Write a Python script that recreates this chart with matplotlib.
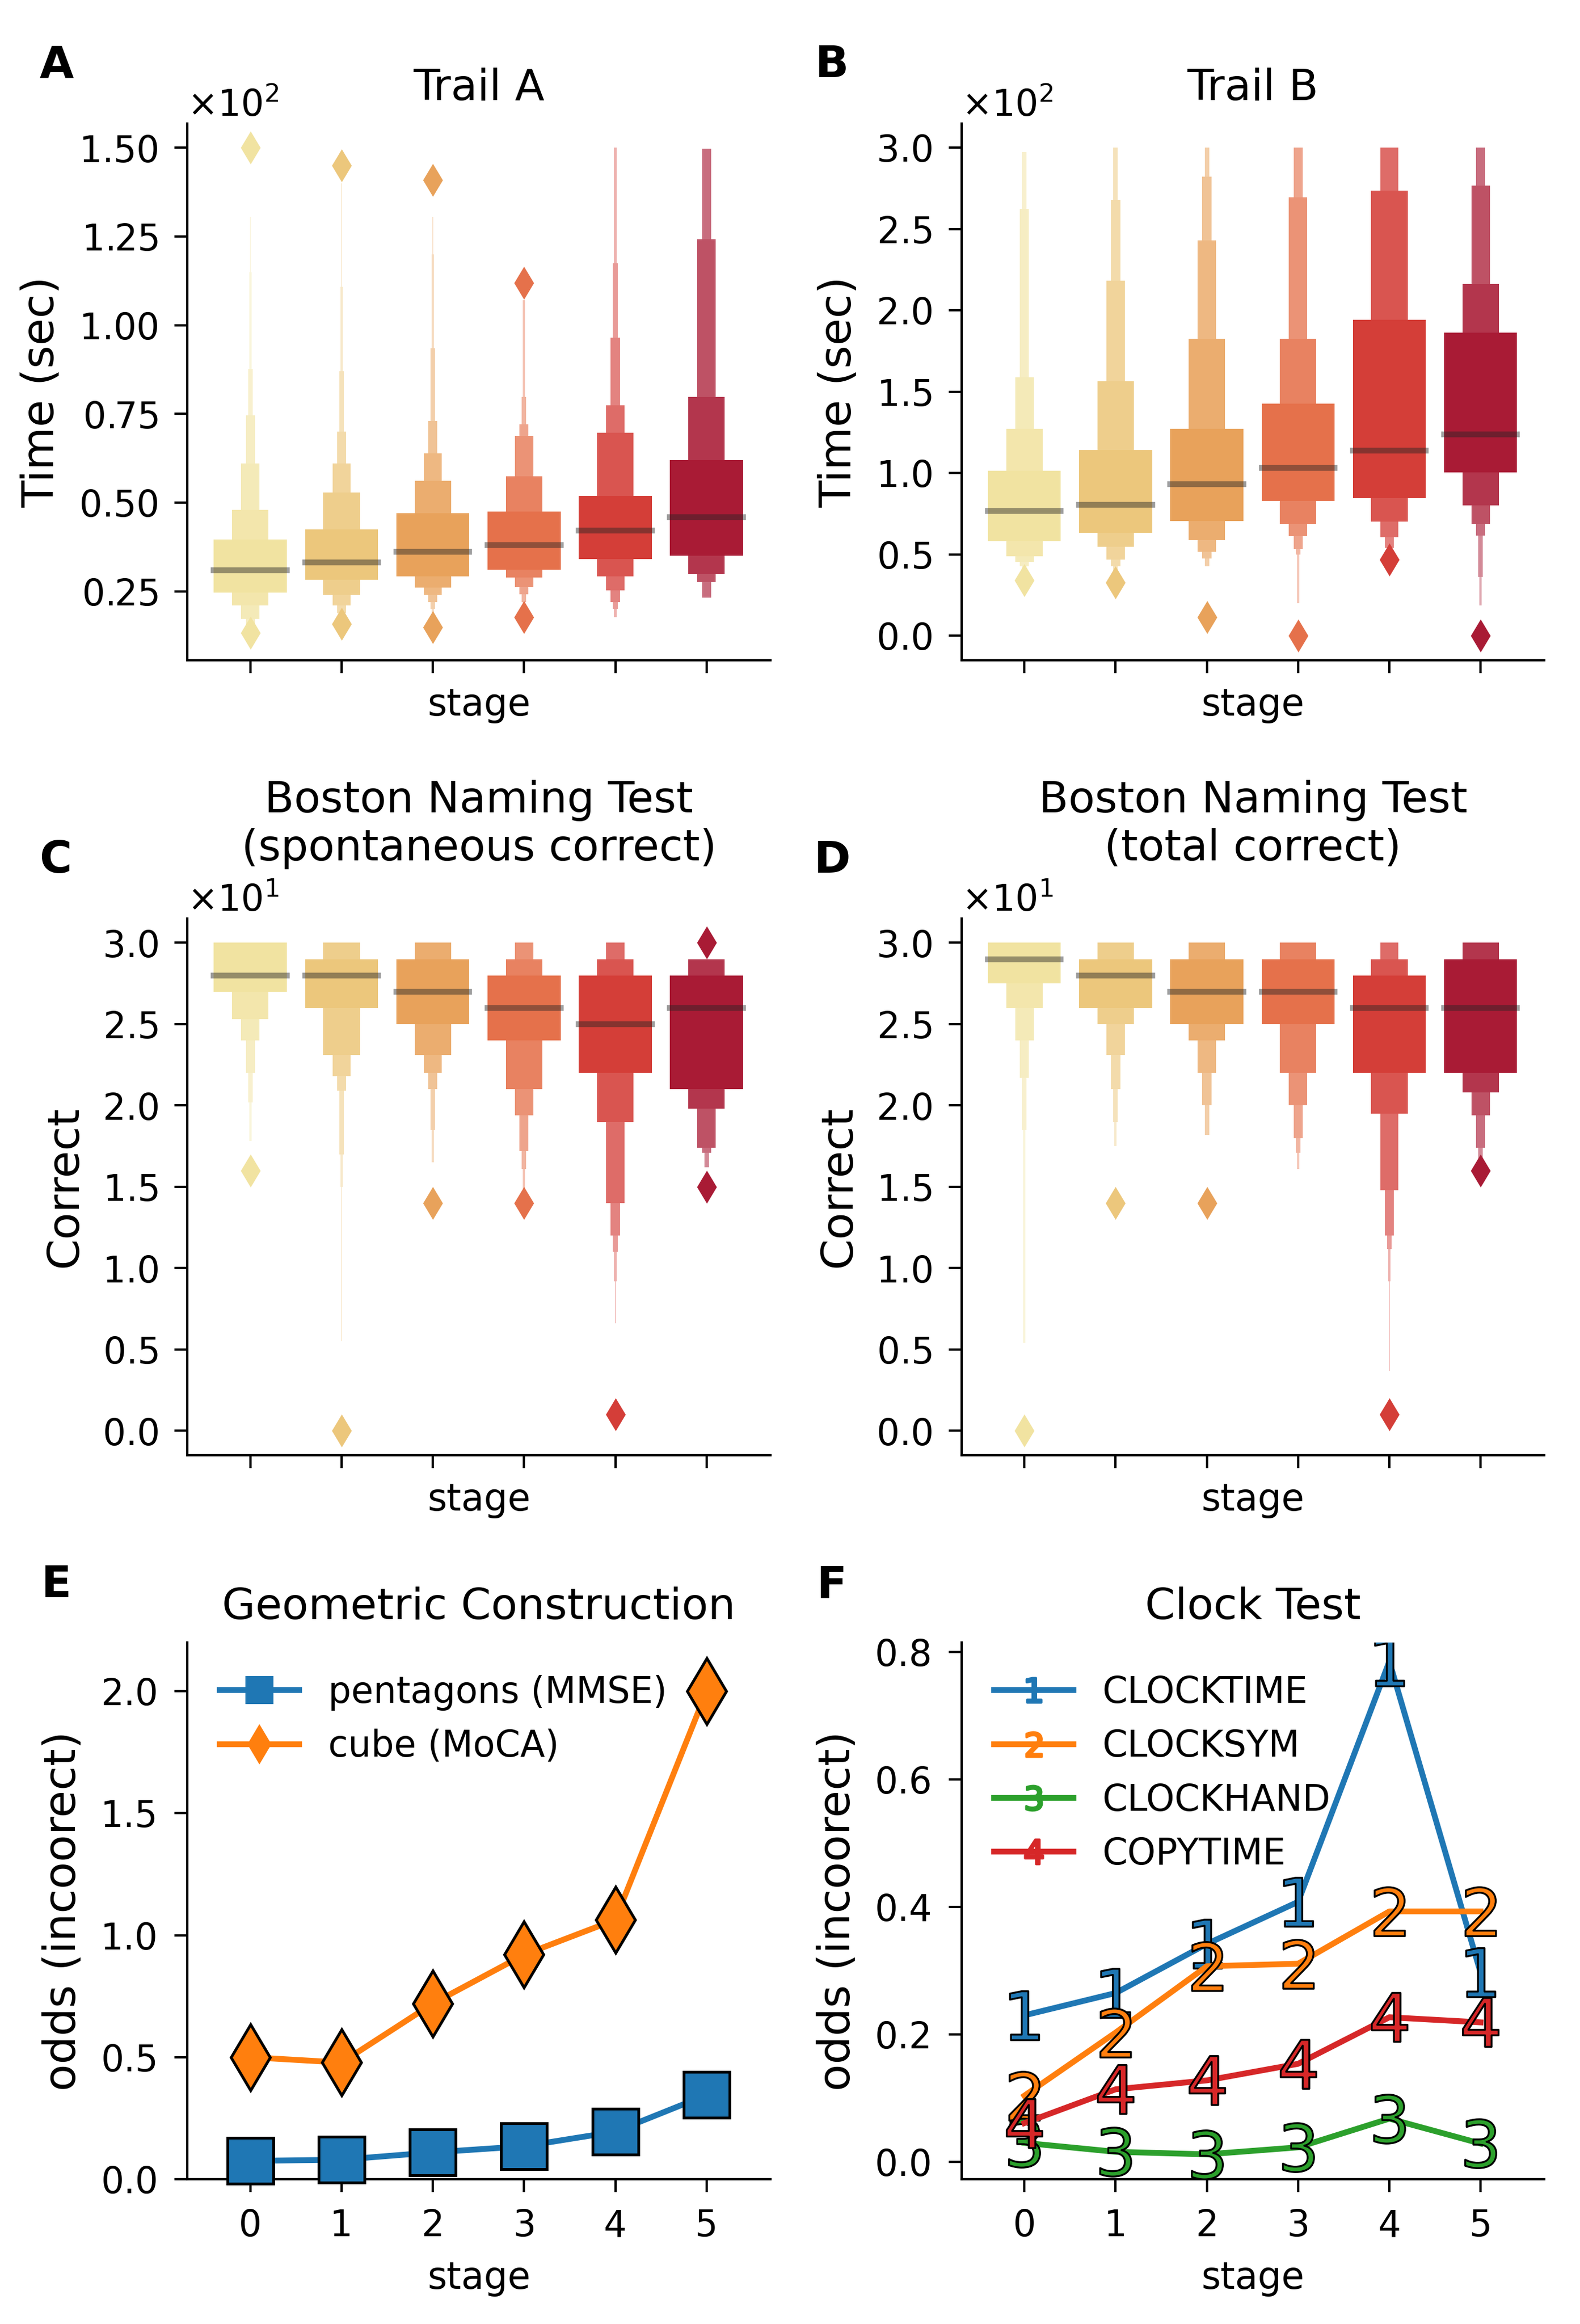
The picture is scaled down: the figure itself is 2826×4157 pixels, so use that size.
import matplotlib
matplotlib.use("Agg")
import matplotlib.pyplot as plt
from matplotlib.colors import to_rgb
from matplotlib.lines import Line2D
import numpy as np

# ── data ────────────────────────────────────────────────────────────────────
STAGES = [0, 1, 2, 3, 4, 5]
STAGE_COLORS = ["#F1E3A1", "#ECC77C", "#E8A25B", "#E5714B", "#D43E38", "#A91B35"]

# letter-value boxes per stage, innermost (widest) level first
TRAIL_A_LOWER = [[24.6, 21.1, 17.2, 15.5, 14.2, 13.3, 13.0],
                 [28.2, 24.0, 21.1, 18.8, 16.8, 15.5, 15.0],
                 [29.2, 26.0, 24.0, 22.0, 20.1, 18.0, 17.0],
                 [31.1, 28.9, 26.3, 24.2, 22.0, 19.4],
                 [34.1, 29.2, 25.3, 22.0, 20.1, 17.7],
                 [35.1, 29.9, 27.6, 23.3]]
TRAIL_A_UPPER = [[39.6, 48.0, 61.0, 74.6, 87.6, 115.0, 130.5],
                 [42.5, 52.9, 61.0, 70.1, 87.0, 110.8, 140.0],
                 [47.0, 56.1, 63.9, 73.1, 93.5, 120.0, 130.5],
                 [47.5, 57.5, 68.8, 72.0, 79.8, 107.0],
                 [51.9, 69.7, 77.5, 96.5, 117.5, 150.0],
                 [62.0, 79.8, 124.3, 149.7]]
TRAIL_A_MEDIAN = [31.0, 33.1, 36.2, 38.1, 42.2, 46.0]
TRAIL_A_OUTLIERS = [[150.0, 13.3], [145.0, 15.9], [141.0, 14.9], [112.0, 17.7], [], []]

TRAIL_B_LOWER = [[58.3, 48.9, 45.5, 42.7, 39.8],
                 [63.4, 54.9, 46.9, 42.7, 40.0],
                 [70.5, 58.9, 51.8, 47.5, 42.7],
                 [83.0, 68.8, 61.1, 53.2, 49.8, 19.9],
                 [84.8, 70.2, 60.6, 54.0],
                 [100.4, 80.2, 68.8, 61.7, 36.1, 18.5]]
TRAIL_B_UPPER = [[101.5, 127.1, 158.7, 262.2, 297.2],
                 [114.3, 156.4, 218.4, 267.9, 300.0],
                 [127.1, 182.6, 243.2, 282.4, 300.0],
                 [142.8, 182.6, 269.6, 300.0, 300.0, 300.0],
                 [194.3, 273.6, 300.0, 300.0],
                 [186.3, 216.1, 276.7, 300.0, 300.0, 300.0]]
TRAIL_B_MEDIAN = [76.8, 80.5, 93.3, 103.2, 113.8, 123.7]
TRAIL_B_OUTLIERS = [[34.1], [32.7], [11.4], [0.0], [46.9], [0.0]]

BNT_SPONT_LOWER = [[27.0, 25.3, 24.0, 22.0, 20.2, 17.8],
                   [26.0, 23.1, 21.8, 20.9, 17.0, 15.0, 5.5],
                   [25.0, 23.1, 22.0, 21.0, 18.5, 16.5],
                   [24.0, 21.0, 19.4, 17.2, 16.1, 14.7],
                   [22.0, 19.0, 14.0, 12.0, 11.0, 9.2, 6.6],
                   [21.0, 19.8, 17.4, 17.1, 16.2]]
BNT_SPONT_UPPER = [[30.0, 30.0, 30.0, 30.0, 30.0, 30.0],
                   [29.0, 30.0, 30.0, 30.0, 30.0, 30.0, 30.0],
                   [29.0, 30.0, 30.0, 30.0, 30.0, 30.0],
                   [28.0, 29.0, 30.0, 30.0, 30.0, 30.0],
                   [28.0, 29.0, 30.0, 30.0, 30.0, 30.0, 30.0],
                   [28.0, 29.0, 29.0, 29.0, 29.0]]
BNT_SPONT_MEDIAN = [28.0, 28.0, 27.0, 26.0, 25.0, 26.0]
BNT_SPONT_OUTLIERS = [[16.0], [0.0], [14.0], [14.0], [1.0], [30.0, 15.0]]

BNT_TOTAL_LOWER = [[27.5, 26.0, 24.0, 21.7, 18.5, 5.4],
                   [26.0, 25.0, 23.1, 21.0, 19.0, 17.5],
                   [25.0, 24.0, 22.0, 20.0, 18.2],
                   [25.0, 22.0, 20.0, 18.0, 17.1, 16.1],
                   [22.0, 19.5, 14.8, 12.0, 11.2, 9.2, 3.7],
                   [22.0, 20.8, 19.4, 17.4, 16.5]]
BNT_TOTAL_UPPER = [[30.0, 30.0, 30.0, 30.0, 30.0, 30.0],
                   [29.0, 30.0, 30.0, 30.0, 30.0, 30.0],
                   [29.0, 30.0, 30.0, 30.0, 30.0],
                   [29.0, 30.0, 30.0, 30.0, 30.0, 30.0],
                   [28.0, 29.0, 30.0, 30.0, 30.0, 30.0, 30.0],
                   [29.0, 30.0, 30.0, 30.0, 30.0]]
BNT_TOTAL_MEDIAN = [29.0, 28.0, 27.0, 27.0, 26.0, 26.0]
BNT_TOTAL_OUTLIERS = [[0.0], [14.0], [14.0], [], [1.0], [16.0]]

GEO_LABELS = ["pentagons (MMSE)", "cube (MoCA)"]
PENTAGONS = [0.075, 0.08, 0.11, 0.135, 0.195, 0.345]
CUBE = [0.50, 0.478, 0.72, 0.92, 1.063, 2.0]

CLOCK_LABELS = ["CLOCKTIME", "CLOCKSYM", "CLOCKHAND", "COPYTIME"]
CLOCKTIME = [0.23, 0.265, 0.342, 0.408, 0.785, 0.297]
CLOCKSYM = [0.104, 0.203, 0.307, 0.311, 0.393, 0.393]
CLOCKHAND = [0.030, 0.016, 0.012, 0.023, 0.068, 0.029]
COPYTIME = [0.061, 0.114, 0.128, 0.154, 0.227, 0.219]

# ── style ───────────────────────────────────────────────────────────────────
plt.rcParams.update({
    "font.size": 15.5,
    "axes.labelsize": 19,
    "axes.titlesize": 18.5,
    "axes.titlepad": 10,
    "axes.labelpad": 7,
    "xtick.labelsize": 15.5,
    "ytick.labelsize": 15.5,
    "legend.fontsize": 15.5,
    "axes.linewidth": 1.0,
    "xtick.major.size": 5.5,
    "ytick.major.size": 5.5,
    "xtick.major.width": 1.0,
    "ytick.major.width": 1.0,
    "xtick.major.pad": 7,
    "ytick.major.pad": 7,
    "axes.spines.top": False,
    "axes.spines.right": False,
})

XLIM = (-0.69, 5.7)
XLABEL_SIZE = 16


def _boxen(ax, lower, upper, medians, outliers):
    for i, stage in enumerate(STAGES):
        base = np.array(to_rgb(STAGE_COLORS[i]))
        levels = list(zip(lower[i], upper[i]))
        # outer (thin, light) levels first so the wide boxes sit on top
        for j in reversed(range(len(levels))):
            lo, hi = levels[j]
            col = base + (1 - base) * 0.12 * j
            ax.bar(stage, hi - lo, bottom=lo, width=0.8 * 0.5 ** j,
                   color=col, linewidth=0, zorder=2)
        ax.plot([stage - 0.4, stage + 0.4], [medians[i]] * 2, color=".15",
                alpha=.45, lw=2.5, solid_capstyle="projecting", zorder=3)
        if outliers[i]:
            ax.scatter([stage] * len(outliers[i]), outliers[i], marker="d",
                       s=100, color=STAGE_COLORS[i], linewidth=0, zorder=4)
    ax.set_xlim(*XLIM)
    ax.set_xticks(STAGES)
    ax.tick_params(axis="x", labelbottom=False)
    ax.set_xlabel("stage", fontsize=XLABEL_SIZE, labelpad=5.8)
    ax.ticklabel_format(axis="y", style="sci", scilimits=(0, 0), useMathText=True)


fig = plt.figure(figsize=(9.42, 13.857), dpi=300)
W, H = 0.369, 0.231
LX, RX = 0.1186, 0.6085
ROWS = [0.7159, 0.3738, 0.0623]

ax_a = fig.add_axes([LX, ROWS[0], W, H])
ax_b = fig.add_axes([RX, ROWS[0], W, H])
ax_c = fig.add_axes([LX, ROWS[1], W, H])
ax_d = fig.add_axes([RX, ROWS[1], W, H])
ax_e = fig.add_axes([LX, ROWS[2], W, H])
ax_f = fig.add_axes([RX, ROWS[2], W, H])

_boxen(ax_a, TRAIL_A_LOWER, TRAIL_A_UPPER, TRAIL_A_MEDIAN, TRAIL_A_OUTLIERS)
ax_a.set_ylim(5.6, 156.9)
ax_a.set_yticks([25, 50, 75, 100, 125, 150])
ax_a.set_ylabel("Time (sec)")
ax_a.set_title("Trail A")

_boxen(ax_b, TRAIL_B_LOWER, TRAIL_B_UPPER, TRAIL_B_MEDIAN, TRAIL_B_OUTLIERS)
ax_b.set_ylim(-15, 315)
ax_b.set_yticks([0, 50, 100, 150, 200, 250, 300])
ax_b.set_ylabel("Time (sec)")
ax_b.set_title("Trail B")

_boxen(ax_c, BNT_SPONT_LOWER, BNT_SPONT_UPPER, BNT_SPONT_MEDIAN, BNT_SPONT_OUTLIERS)
ax_c.set_ylim(-1.5, 31.5)
ax_c.set_yticks([0, 5, 10, 15, 20, 25, 30])
ax_c.set_ylabel("Correct")
ax_c.set_title("Boston Naming Test\n(spontaneous correct)")

_boxen(ax_d, BNT_TOTAL_LOWER, BNT_TOTAL_UPPER, BNT_TOTAL_MEDIAN, BNT_TOTAL_OUTLIERS)
ax_d.set_ylim(-1.5, 31.5)
ax_d.set_yticks([0, 5, 10, 15, 20, 25, 30])
ax_d.set_ylabel("Correct")
ax_d.set_title("Boston Naming Test\n(total correct)")

# ── E: geometric construction ───────────────────────────────────────────────
for vals, mk, ms, col in [(PENTAGONS, "s", 19.5, "C0"), (CUBE, "d", 20, "C1")]:
    ax_e.plot(STAGES, vals, color=col, lw=2.5, marker=mk, ms=ms,
              mec="k", mew=1.2, zorder=3, clip_on=False)
handles = [Line2D([], [], color="C0", lw=2.5, marker="s", ms=11),
           Line2D([], [], color="C1", lw=2.5, marker="d", ms=11)]
ax_e.legend(handles, GEO_LABELS, loc="upper left", frameon=False, handlelength=2.2)
ax_e.set_xlim(*XLIM)
ax_e.set_ylim(0, 2.2)
ax_e.set_xticks(STAGES)
ax_e.set_yticks([0, 0.5, 1.0, 1.5, 2.0])
ax_e.set_xlabel("stage", fontsize=XLABEL_SIZE, labelpad=6.6)
ax_e.set_ylabel("odds (incoorect)")
ax_e.set_title("Geometric Construction")

# ── F: clock test ───────────────────────────────────────────────────────────
handles = []
for k, (vals, col) in enumerate(zip([CLOCKTIME, CLOCKSYM, CLOCKHAND, COPYTIME],
                                    ["C0", "C1", "C2", "C3"])):
    mk = f"${k + 1}$"
    ax_f.plot(STAGES, vals, color=col, lw=2.5, marker=mk, ms=21,
              mec="k", mew=0.8, zorder=3)
    handles.append(Line2D([], [], color=col, lw=2.5, marker=mk, ms=10.5))
ax_f.legend(handles, CLOCK_LABELS, loc="upper left", frameon=False, handlelength=2.2)
ax_f.set_xlim(*XLIM)
ax_f.set_ylim(-0.027, 0.815)
ax_f.set_xticks(STAGES)
ax_f.set_yticks([0, 0.2, 0.4, 0.6, 0.8])
ax_f.set_xlabel("stage", fontsize=XLABEL_SIZE, labelpad=6.6)
ax_f.set_ylabel("odds (incoorect)")
ax_f.set_title("Clock Test")

# panel letters
for lab, x, y in [("A", 0.025, 0.9668), ("B", 0.516, 0.9668),
                  ("C", 0.025, 0.6245), ("D", 0.515, 0.6245),
                  ("E", 0.026, 0.3127), ("F", 0.517, 0.3127)]:
    fig.text(x, y, lab, fontsize=19, fontweight="bold", va="baseline", ha="left")

fig.savefig("out.png", dpi=300)
